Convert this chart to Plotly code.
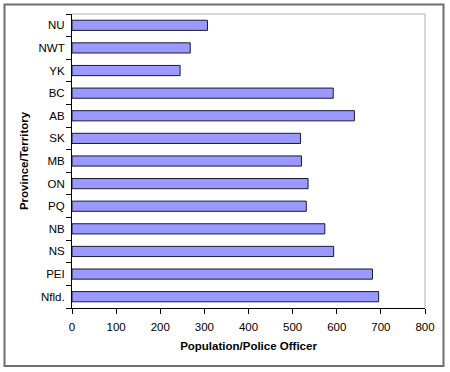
import plotly.graph_objects as go

regions = ["Nfld.", "PEI", "NS", "NB", "PQ", "ON", "MB", "SK", "AB", "BC", "YK", "NWT", "NU"]
pop_per_officer = [695, 681, 593, 573, 531, 535, 520, 518, 640, 592, 245, 268, 307]
x_ticks = [0, 100, 200, 300, 400, 500, 600, 700, 800]

fig = go.Figure(go.Bar(
    x=pop_per_officer, y=regions, orientation="h",
    marker=dict(color="#9999FF", line=dict(color="#1a1a2e", width=1)),
    width=0.45,
))

L, R, T, B = 72, 425, 14, 308
W, H = R - L, B - T
def px(x): return (x - L) / W
def py(y): return (B - y) / H

fig.update_layout(
    width=450, height=372,
    margin=dict(l=L, r=450 - R, t=T, b=372 - B, pad=0),
    paper_bgcolor="white", plot_bgcolor="white",
    font=dict(family="Liberation Sans, Arial", size=11, color="#000"),
    showlegend=False,
    bargap=0.55,
    xaxis=dict(range=[0, 800], tickvals=x_ticks, ticks="outside", ticklen=5,
               tickcolor="#000", showline=True, linecolor="#000", linewidth=1,
               showgrid=False, zeroline=False, tickfont=dict(size=11.5),
               ticklabelstandoff=3,
               title=dict(text="<b>Population/Police Officer</b>", font=dict(size=11.5), standoff=10)),
    yaxis=dict(categoryorder="array", categoryarray=regions, ticks="outside", ticklen=5,
               tickson="boundaries", tickcolor="#000", showline=True, linecolor="#000",
               linewidth=1, showgrid=False, zeroline=False, tickfont=dict(size=11.5),
               ticklabelstandoff=4,
               title=dict(text="<b>Province/Territory</b>", font=dict(size=11.5), standoff=7)),
    shapes=[
        dict(type="line", xref="paper", yref="paper", x0=0, x1=1, y0=1, y1=1,
             line=dict(color="#B0B0B0", width=1)),
        dict(type="line", xref="paper", yref="paper", x0=1, x1=1, y0=0, y1=1,
             line=dict(color="#B0B0B0", width=1)),
        dict(type="rect", xref="paper", yref="paper",
             x0=px(4.5), x1=px(443.5), y0=py(366), y1=py(4.5),
             line=dict(color="#6E6E6E", width=2)),
    ],
)

fig.write_html("out.html")
